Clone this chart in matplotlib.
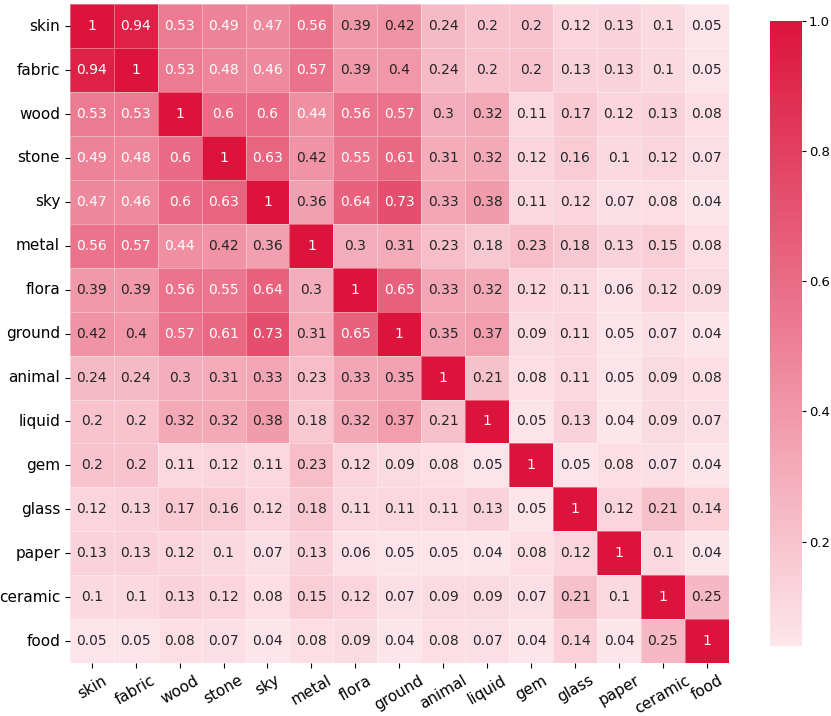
import numpy as np
import matplotlib
matplotlib.use("Agg")
import matplotlib.pyplot as plt
import seaborn as sns
from matplotlib.colors import LinearSegmentedColormap

labels = ["skin", "fabric", "wood", "stone", "sky", "metal", "flora", "ground",
          "animal", "liquid", "gem", "glass", "paper", "ceramic", "food"]

# matriz de similaridade
sim = np.array([
    [1, 0.94, 0.53, 0.49, 0.47, 0.56, 0.39, 0.42, 0.24, 0.2, 0.2, 0.12, 0.13, 0.1, 0.05],
    [0.94, 1, 0.53, 0.48, 0.46, 0.57, 0.39, 0.4, 0.24, 0.2, 0.2, 0.13, 0.13, 0.1, 0.05],
    [0.53, 0.53, 1, 0.6, 0.6, 0.44, 0.56, 0.57, 0.3, 0.32, 0.11, 0.17, 0.12, 0.13, 0.08],
    [0.49, 0.48, 0.6, 1, 0.63, 0.42, 0.55, 0.61, 0.31, 0.32, 0.12, 0.16, 0.1, 0.12, 0.07],
    [0.47, 0.46, 0.6, 0.63, 1, 0.36, 0.64, 0.73, 0.33, 0.38, 0.11, 0.12, 0.07, 0.08, 0.04],
    [0.56, 0.57, 0.44, 0.42, 0.36, 1, 0.3, 0.31, 0.23, 0.18, 0.23, 0.18, 0.13, 0.15, 0.08],
    [0.39, 0.39, 0.56, 0.55, 0.64, 0.3, 1, 0.65, 0.33, 0.32, 0.12, 0.11, 0.06, 0.12, 0.09],
    [0.42, 0.4, 0.57, 0.61, 0.73, 0.31, 0.65, 1, 0.35, 0.37, 0.09, 0.11, 0.05, 0.07, 0.04],
    [0.24, 0.24, 0.3, 0.31, 0.33, 0.23, 0.33, 0.35, 1, 0.21, 0.08, 0.11, 0.05, 0.09, 0.08],
    [0.2, 0.2, 0.32, 0.32, 0.38, 0.18, 0.32, 0.37, 0.21, 1, 0.05, 0.13, 0.04, 0.09, 0.07],
    [0.2, 0.2, 0.11, 0.12, 0.11, 0.23, 0.12, 0.09, 0.08, 0.05, 1, 0.05, 0.08, 0.07, 0.04],
    [0.12, 0.13, 0.17, 0.16, 0.12, 0.18, 0.11, 0.11, 0.11, 0.13, 0.05, 1, 0.12, 0.21, 0.14],
    [0.13, 0.13, 0.12, 0.1, 0.07, 0.13, 0.06, 0.05, 0.05, 0.04, 0.08, 0.12, 1, 0.1, 0.04],
    [0.1, 0.1, 0.13, 0.12, 0.08, 0.15, 0.12, 0.07, 0.09, 0.09, 0.07, 0.21, 0.1, 1, 0.25],
    [0.05, 0.05, 0.08, 0.07, 0.04, 0.08, 0.09, 0.04, 0.08, 0.07, 0.04, 0.14, 0.04, 0.25, 1],
])

# rosa claro -> crimson
cmap = LinearSegmentedColormap.from_list("rosa", ["#fde6eb", "#dc143c"])

fig = plt.figure(figsize=(8.31, 7.16), dpi=100)
ax = fig.add_axes([0.084, 0.074, 0.793, 0.92])
cax = fig.add_axes([0.927, 0.098, 0.038, 0.873])

sns.heatmap(sim, ax=ax, cbar_ax=cax, cmap=cmap, annot=True, fmt=".2g",
            annot_kws={"size": 10}, linewidths=0.5, linecolor=(1, 1, 1, 0.35),
            xticklabels=labels, yticklabels=labels)

ax.set_xticklabels(labels, rotation=30, fontsize=11)
ax.set_yticklabels(labels, rotation=0, fontsize=11)
cax.tick_params(labelsize=9.5, length=3, pad=2)
for s in cax.spines.values():
    s.set_visible(False)

plt.savefig("out.png", dpi=100)
